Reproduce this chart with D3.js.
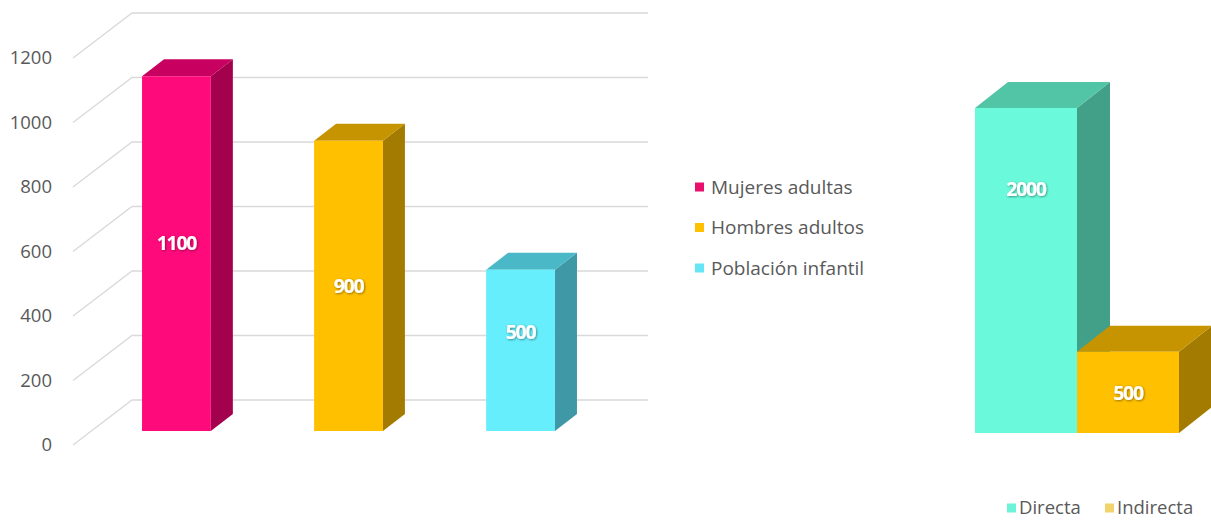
<!DOCTYPE html>
<html>
<head>
<meta charset="utf-8">
<script src="https://cdn.jsdelivr.net/npm/d3@7"></script>
<style>
html,body{margin:0;padding:0;background:#fff;}
svg{display:block;font-family:"Open Sans",sans-serif;}
</style>
</head>
<body>
<svg id="c" width="1211" height="520"></svg>
<script>
// ---- data ----
const categories1 = ["Mujeres adultas", "Hombres adultos", "Población infantil"];
const values1 = [1100, 900, 500];
const ticks1 = [0, 200, 400, 600, 800, 1000, 1200];
const categories2 = ["Directa", "Indirecta"];
const values2 = [2000, 500];

// ---- styles ----
const colors1 = [
  {front:"#FF0A7B", top:"#C8005F", side:"#A3004E", legend:"#E8116E"},
  {front:"#FFC000", top:"#C69400", side:"#A37B00", legend:"#FFC000"},
  {front:"#66EEFC", top:"#4BB8C8", side:"#3F98A5", legend:"#66E6F5"}
];
const colors2 = [
  {front:"#6AFADB", top:"#52C5A7", side:"#43A088", legend:"#6CF3D8"},
  {front:"#FFC000", top:"#C69400", side:"#A37B00", legend:"#F0D36A"}
];
const labelFrac1 = [0.53, 0.50, 0.61];
const labelFrac2 = [0.75, 0.49];

const svg = d3.select("#c");
const defs = svg.append("defs");
const f = defs.append("filter").attr("id","sh").attr("x","-20%").attr("y","-20%").attr("width","140%").attr("height","140%");
f.append("feDropShadow").attr("dx",0.8).attr("dy",0.8).attr("stdDeviation",0.8).attr("flood-color","#000").attr("flood-opacity",0.45);

// ---- left chart ----
const y1 = d3.scaleLinear().domain([0,1200]).range([431, 44]);
const x1 = d3.scaleBand().domain(categories1).range([56, 641]).paddingInner(0.6).paddingOuter(0.5);
const d1 = {dx:22, dy:-17};
const wall = {dx:59, dy:-45, front:14, right:648};

const grid = svg.append("g");
ticks1.forEach(t => {
  const yf = y1(t) + wall.front;
  const yb = yf + wall.dy;
  grid.append("path")
    .attr("d", `M73,${yf}L${73+wall.dx},${yb}L${wall.right},${yb}`)
    .attr("fill","none").attr("stroke","#D9D9D9").attr("stroke-width",1.3);
});
const yAxis = d3.axisLeft(d3.scaleLinear().domain([0,1200]).range([431+wall.front, 44+wall.front]))
  .tickValues(ticks1).tickFormat(d3.format("d")).tickSize(0).tickPadding(0);
const ya = svg.append("g").attr("transform","translate(52,0)").call(yAxis);
ya.select(".domain").remove();
ya.selectAll("text").attr("font-family","Open Sans").attr("font-size",18.5).attr("fill","#595959");

function bar3d(g, x, w, yTop, yBot, d, c){
  g.append("path").attr("d",`M${x+w},${yTop}L${x+w+d.dx},${yTop+d.dy}L${x+w+d.dx},${yBot+d.dy}L${x+w},${yBot}Z`).attr("fill",c.side);
  g.append("path").attr("d",`M${x},${yTop}L${x+d.dx},${yTop+d.dy}L${x+w+d.dx},${yTop+d.dy}L${x+w},${yTop}Z`).attr("fill",c.top);
  g.append("rect").attr("x",x).attr("y",yTop).attr("width",w).attr("height",yBot-yTop).attr("fill",c.front);
}

const bars1 = svg.append("g");
values1.forEach((v,i) => {
  bar3d(bars1, x1(categories1[i]), x1.bandwidth(), y1(v), y1(0), d1, colors1[i]);
});
values1.forEach((v,i) => {
  svg.append("text")
    .attr("x", x1(categories1[i]) + x1.bandwidth()/2)
    .attr("y", y1(v*labelFrac1[i]))
    .attr("dy","0.35em")
    .attr("text-anchor","middle")
    .attr("font-family","Open Sans").attr("font-weight","bold").attr("font-size",19.5)
    .attr("letter-spacing","-1.3")
    .attr("fill","#fff").attr("filter","url(#sh)")
    .text(v);
});

// legend 1
const lg1 = svg.append("g");
categories1.forEach((c,i) => {
  const yy = 187 + i*40.5;
  lg1.append("rect").attr("x",695).attr("y",yy-4.5).attr("width",9).attr("height",9).attr("fill",colors1[i].legend);
  lg1.append("text").attr("x",711).attr("y",yy).attr("dy","0.35em")
    .attr("font-family","Open Sans").attr("font-size",19).attr("fill","#595959").text(c);
});

// ---- right chart ----
const y2 = d3.scaleLinear().domain([0,2000]).range([433,108]);
const x2 = d3.scaleBand().domain(categories2).range([975,1179]).padding(0);
const d2 = {dx:33, dy:-26};
const bars2 = svg.append("g");
values2.forEach((v,i) => {
  bar3d(bars2, x2(categories2[i]), x2.bandwidth(), y2(v), y2(0), d2, colors2[i]);
});
values2.forEach((v,i) => {
  svg.append("text")
    .attr("x", x2(categories2[i]) + x2.bandwidth()/2)
    .attr("y", y2(v*labelFrac2[i]))
    .attr("dy","0.35em")
    .attr("text-anchor","middle")
    .attr("font-family","Open Sans").attr("font-weight","bold").attr("font-size",19.5)
    .attr("letter-spacing","-1.3")
    .attr("fill","#fff").attr("filter","url(#sh)")
    .text(v);
});

// legend 2
const lg2 = svg.append("g");
const lx = [1007, 1105];
categories2.forEach((c,i) => {
  lg2.append("rect").attr("x",lx[i]).attr("y",503.5).attr("width",9).attr("height",9).attr("fill",colors2[i].legend);
  lg2.append("text").attr("x",lx[i]+12).attr("y",508).attr("dy","0.35em")
    .attr("font-family","Open Sans").attr("font-size",18.5).attr("fill","#595959").text(c);
});
</script>
</body>
</html>
